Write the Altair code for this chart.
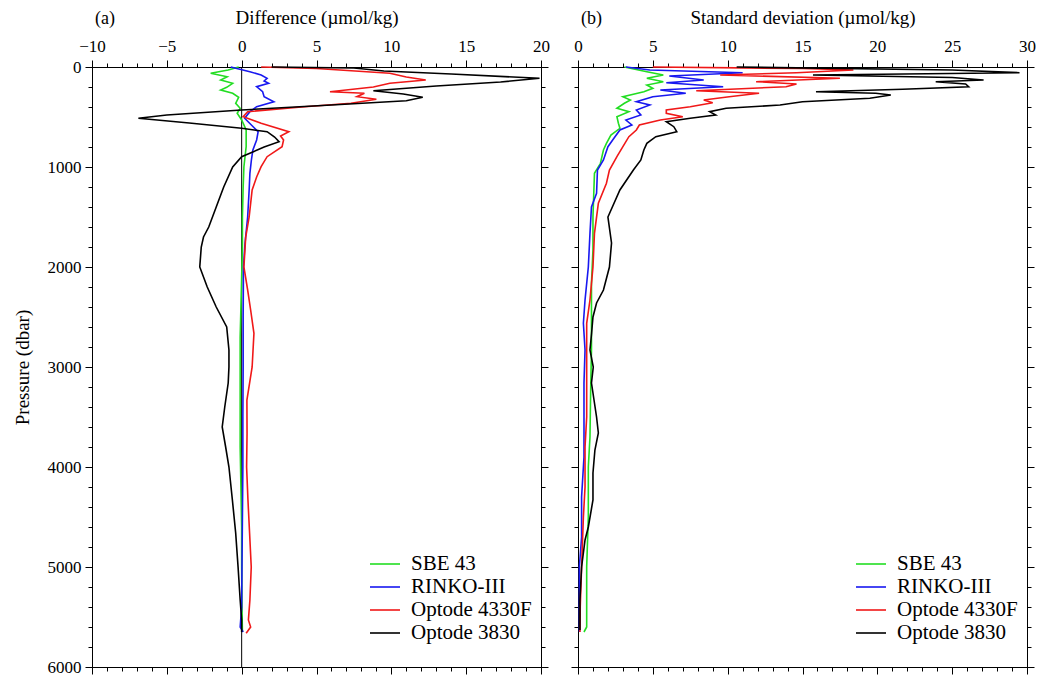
import altair as alt
import pandas as pd

FONT = "Liberation Serif"
sensors = ["SBE 43", "RINKO-III", "Optode 4330F", "Optode 3830"]
colors = ["#22dd22", "#1818f0", "#f01818", "#000000"]

# ---------------- Panel (a): Difference ----------------
a_sbe_p = [0, 30, 63, 97, 130, 163, 203, 230, 263, 303, 363, 413, 463, 530, 630, 797, 997, 1200, 1500, 1800,
           2100, 2400, 2700, 3000, 3400, 3800, 4200, 4600, 5000, 5400, 5650]
a_sbe_v = [-0.2, -0.9, -2.07, -0.97, -1.4, -0.6, -1.0, -1.4, -0.6, -0.2, -0.4, -0.1, -0.3, 0.0, 0.3, 0.3, 0.15,
           0.1, 0.05, 0.05, 0.0, -0.05, -0.1, -0.1, -0.1, -0.1, -0.05, 0.0, 0.0, 0.02, 0.05]

a_rinko_p = [0, 47, 80, 113, 140, 163, 197, 247, 297, 347, 397, 447, 513, 580, 647, 730, 830, 930, 1063, 1230,
             1500, 1770, 2000, 2500, 3000, 3500, 4000, 4500, 5000, 5400, 5600, 5650]
a_rinko_v = [-0.73, 0.55, 1.3, 1.7, 1.5, 1.8, 1.0, 1.4, 1.5, 2.15, 1.0, 0.55, 0.2, 0.65, 1.1, 1.0, 0.75, 0.65,
             0.55, 0.5, 0.4, 0.22, 0.12, 0.1, 0.1, 0.08, 0.08, 0.05, 0.02, 0.0, -0.1, 0.1]

a_o4330_p = [0, 15, 63, 100, 130, 163, 200, 247, 263, 297, 323, 363, 400, 447, 497, 563, 647, 690, 730, 797, 897,
             997, 1100, 1230, 1500, 1700, 2000, 2230, 2430, 2663, 3000, 3330, 3663, 4000, 4330, 4663, 5000, 5330,
             5530, 5600, 5663]
a_o4330_v = [1.3, 5.0, 9.9, 11.0, 12.3, 9.9, 8.8, 5.9, 8.2, 7.7, 9.0, 7.3, 4.0, 0.4, 0.1, 1.3, 3.15, 2.6, 2.8, 2.7,
             1.7, 1.3, 1.0, 0.7, 0.5, 0.27, 0.15, 0.4, 0.6, 0.82, 0.7, 0.35, 0.36, 0.33, 0.42, 0.53, 0.64, 0.55,
             0.45, 0.6, 0.3]

a_o3830_p = [0, 10, 40, 70, 113, 150, 190, 237, 270, 303, 337, 380, 430, 480, 513, 560, 613, 647, 700, 747, 800,
             897, 1000, 1200, 1400, 1600, 1700, 1800, 2000, 2200, 2400, 2600, 2830, 3000, 3160, 3400, 3600, 3800,
             4000, 4330, 4660, 5000, 5330, 5530, 5650]
a_o3830_v = [2.0, 7.5, 9.5, 14.0, 19.9, 17.3, 13.0, 8.8, 10.8, 12.1, 11.0, 6.0, 0.0, -5.0, -6.9, -3.5, 0.0, 1.7,
             2.2, 2.5, 1.5, 0.0, -0.6, -1.2, -1.7, -2.2, -2.55, -2.7, -2.8, -2.3, -1.7, -1.0, -0.85, -0.85, -0.9,
             -1.13, -1.3, -1.07, -0.85, -0.62, -0.4, -0.24, -0.1, 0.0, 0.0]

# ---------------- Panel (b): Standard deviation ----------------
b_sbe_p = [0, 47, 80, 113, 147, 180, 213, 247, 297, 330, 363, 413, 447, 497, 563, 613, 680, 763, 830, 963, 1063,
           1497, 1830, 2163, 2497, 2830, 3200, 3700, 4000, 4500, 5000, 5600, 5650]
b_sbe_v = [3.1, 4.6, 5.7, 4.6, 5.7, 4.6, 5.0, 4.4, 3.0, 3.5, 3.1, 2.6, 3.4, 2.6, 2.7, 2.8, 2.2, 1.9, 1.7, 1.5, 1.1,
           1.0, 1.0, 0.9, 0.9, 0.9, 0.85, 0.8, 0.69, 0.69, 0.58, 0.58, 0.4]

b_rinko_p = [0, 30, 57, 90, 130, 157, 197, 230, 263, 297, 347, 380, 430, 480, 530, 580, 630, 713, 797, 930, 1030,
             1263, 1400, 1663, 2000, 2330, 2563, 2830, 3160, 3500, 3900, 4300, 4700, 5000, 5400, 5650]
b_rinko_v = [3.2, 4.8, 11.0, 6.1, 8.4, 5.9, 9.7, 5.5, 7.2, 5.0, 3.9, 4.8, 3.9, 4.2, 3.2, 3.6, 2.8, 2.4, 2.0, 1.7,
             1.3, 1.24, 0.9, 0.8, 0.69, 0.47, 0.36, 0.47, 0.4, 0.4, 0.4, 0.24, 0.24, 0.09, 0.09, 0.1]

b_o4330_p = [0, 15, 30, 57, 80, 113, 147, 170, 197, 237, 263, 297, 330, 357, 397, 430, 463, 497, 530, 580, 630,
             697, 797, 897, 1030, 1163, 1363, 1663, 2000, 2330, 2563, 3000, 3500, 3800, 4200, 4500, 5000, 5400, 5650]
b_o4330_v = [5.0, 15.0, 18.4, 14.6, 9.5, 17.5, 11.9, 14.6, 13.9, 7.9, 12.1, 10.1, 8.4, 9.0, 7.5, 5.9, 5.9, 7.0,
             5.5, 4.1, 3.9, 3.4, 3.0, 2.6, 2.1, 1.9, 1.36, 1.1, 1.0, 0.8, 0.58, 0.58, 0.58, 0.47, 0.47, 0.36, 0.24,
             0.15, 0.13]

b_o3830_p = [0, 30, 57, 80, 105, 130, 147, 170, 197, 223, 247, 263, 280, 313, 347, 380, 413, 447, 480, 513, 547,
             597, 647, 697, 763, 830, 930, 1030, 1230, 1500, 1760, 2000, 2230, 2360, 2500, 2660, 2830, 3000, 3160,
             3260, 3500, 3660, 3830, 4060, 4330, 4600, 4730, 5000, 5330, 5630]
b_o3830_v = [10.6, 25.0, 29.5, 15.7, 25.0, 27.1, 23.9, 25.9, 26.1, 21.7, 15.9, 19.9, 20.9, 19.5, 15.0, 13.5, 9.9,
             8.8, 9.2, 7.5, 5.9, 6.4, 6.6, 5.2, 4.6, 4.4, 4.2, 3.7, 2.8, 2.0, 2.24, 2.1, 1.7, 1.24, 1.0, 0.91, 0.8,
             1.02, 0.9, 1.0, 1.24, 1.36, 1.13, 1.0, 1.0, 0.69, 0.47, 0.24, 0.13, 0.13]

x_dom_a = [-10, 20]
x_dom_b = [0, 30]
p_dom = [0, 6000]


def make_df(series):
    rows = []
    for name, ps, vs in series:
        for i, (p, v) in enumerate(zip(ps, vs)):
            rows.append({"sensor": name, "P": p, "v": v, "i": i})
    return pd.DataFrame(rows)


df_a = make_df([(sensors[0], a_sbe_p, a_sbe_v), (sensors[1], a_rinko_p, a_rinko_v),
                (sensors[2], a_o4330_p, a_o4330_v), (sensors[3], a_o3830_p, a_o3830_v)])
df_b = make_df([(sensors[0], b_sbe_p, b_sbe_v), (sensors[1], b_rinko_p, b_rinko_v),
                (sensors[2], b_o4330_p, b_o4330_v), (sensors[3], b_o3830_p, b_o3830_v)])

xtick_cond = {"condition": {"test": "datum.value % 5 === 0", "value": 7}, "value": 4}
ytick_cond = {"condition": {"test": "datum.value % 1000 === 0", "value": 7}, "value": 4}
y_ticks = list(range(0, 6001, 200))

AX = dict(domainColor="black", tickColor="black", tickWidth=1, labelColor="black", titleColor="black",
          labelFont=FONT, labelFontSize=17, titleFont=FONT, titleFontSize=19, titleFontWeight="normal",
          grid=False, labelFlush=False, labelOverlap=False)


def panel(df, xdom, xtitle, tag, show_y, zero_line):
    x_ticks = list(range(xdom[0], xdom[1] + 1))
    xs = alt.Scale(domain=xdom, nice=False, zero=False)
    ys = alt.Scale(domain=p_dom, reverse=True, nice=False, zero=False)
    color = alt.Color(
        "sensor:N", sort=sensors,
        scale=alt.Scale(domain=sensors, range=colors),
        legend=alt.Legend(title=None, orient="none", legendX=282, legendY=486,
                          symbolType="M-1.5,0H1.5", symbolSize=400, symbolStrokeWidth=1.6,
                          labelOffset=15, labelFont=FONT, labelFontSize=21, labelColor="black",
                          rowPadding=2, padding=0, labelLimit=300),
    )
    lines = alt.Chart(df).mark_line(strokeWidth=1.6).encode(
        x=alt.X("v:Q", scale=xs, axis=alt.Axis(
            orient="top", values=x_ticks, title=xtitle, format="d",
            labelExpr="datum.value % 5 === 0 ? datum.label : ''",
            tickSize=xtick_cond, labelPadding=5, titlePadding=10, **AX)),
        y=alt.Y("P:Q", scale=ys, axis=alt.Axis(
            orient="left", values=y_ticks, title="Pressure (dbar)" if show_y else "",
            labels=show_y, format="d",
            labelExpr="datum.value % 1000 === 0 ? datum.label : ''",
            tickSize=ytick_cond, labelPadding=4, titlePadding=15, **AX)),
        color=color,
        order="i:Q",
    )
    zdf = pd.DataFrame({"v": [0], "p0": [p_dom[0]], "p1": [p_dom[1]]})
    other = alt.Chart(zdf).mark_rule(color="black", strokeWidth=1,
                                     opacity=1 if zero_line else 0).encode(
        x=alt.X("v:Q", scale=xs, axis=alt.Axis(
            orient="bottom", values=x_ticks, labels=False, title=None, tickSize=xtick_cond, **AX)),
        y=alt.Y("p0:Q", scale=ys, axis=alt.Axis(
            orient="right", values=y_ticks, labels=False, title=None, tickSize=ytick_cond, **AX)),
        y2="p1:Q",
    )
    return alt.layer(other, lines).resolve_axis(x="independent", y="independent").properties(
        width=449, height=600,
        title=alt.TitleParams(tag, anchor="start", frame="group", font=FONT, fontSize=18,
                              fontWeight="normal", color="black", offset=0, dy=20, dx=3),
    )


pa = panel(df_a, x_dom_a, "Difference (µmol/kg)", "(a)", True, True)
pb = panel(df_b, x_dom_b, "Standard deviation (µmol/kg)", "(b)", False, False)

chart = alt.hconcat(pa, pb, spacing=37, bounds="flush").resolve_legend(color="independent").properties(
    padding={"left": 12, "top": 7, "right": 5, "bottom": 0},
    background="white",
).configure_view(stroke="black", strokeWidth=1).configure_axis(grid=False)

chart.save("out.html", embed_options={"renderer": "svg", "actions": False})
